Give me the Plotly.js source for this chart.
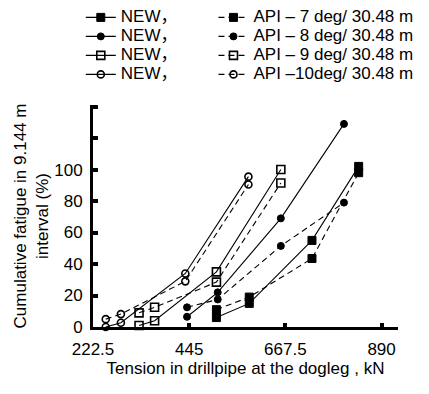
<!DOCTYPE html>
<html>
<head>
<meta charset="utf-8">
<script src="https://cdn.plot.ly/plotly-3.0.1.min.js"></script>
<style>html,body{margin:0;padding:0;background:#fff;}#chart{width:429px;height:394px;}</style>
</head>
<body>
<div id="chart"></div>
<script>
// Tension (kN) for each dogleg severity
const x7  = [508, 584, 729, 837];
const x8  = [440, 511, 657, 803];
const x9  = [329, 365, 508, 657];
const x10 = [252, 287, 436, 582];
// Cumulative fatigue (%) – NEW model
const new7  = [6, 15, 55, 102];
const new8  = [6.5, 22, 69, 129];
const new9  = [1, 4, 35, 100];
const new10 = [0, 2.7, 34, 95.5];
// Cumulative fatigue (%) – API
const api7  = [11, 19, 43.5, 98];
const api8  = [12.5, 17.5, 51.5, 79];
const api9  = [9, 12.5, 28.5, 91.5];
const api10 = [5, 8.2, 29, 90.5];

const newLabel = 'NEW，';
const apiLabels = ['API – 7 deg/ 30.48 m', 'API – 8 deg/ 30.48 m', 'API – 9 deg/ 30.48 m', 'API –10deg/ 30.48 m'];
const xTickVals = [222.5, 445, 667.5, 890];
const xTickText = ['222.5', '445', '667.5', '890'];
const yTickVals = [0, 20, 40, 60, 80, 100, 120, 140];
const yTickText = ['0', '20', '40', '60', '80', '100', '', ''];

const FONT = '"Liberation Sans", Arial, "Noto Sans CJK SC", sans-serif';
const big = s => '<span style="font-size:17px">' + s + '</span>';

const markers = [
  {symbol: 'square', size: 8, color: '#000', line: {color: '#000', width: 1}},
  {symbol: 'circle', size: 7, color: '#000', line: {color: '#000', width: 1}},
  {symbol: 'square-open', size: 8, color: '#000', line: {color: '#000', width: 1.6}},
  {symbol: 'circle-open', size: 7, color: '#000', line: {color: '#000', width: 1.6}}
];
const xs = [x7, x8, x9, x10];
const news = [new7, new8, new9, new10];
const apis = [api7, api8, api9, api10];

const traces = [];
for (let i = 0; i < 4; i++) {
  traces.push({
    x: xs[i], y: news[i], type: 'scatter', mode: 'lines+markers',
    name: big(newLabel), legend: 'legend',
    line: {color: '#000', width: 1.1, dash: 'solid'},
    marker: markers[i], cliponaxis: false
  });
}
for (let i = 0; i < 4; i++) {
  traces.push({
    x: xs[i], y: apis[i], type: 'scatter', mode: 'lines+markers',
    name: big(apiLabels[i]), legend: 'legend2',
    line: {color: '#000', width: 1.1, dash: '6px,4px'},
    marker: markers[i], cliponaxis: false
  });
}

const layout = {
  width: 429, height: 394,
  margin: {l: 93, r: 31, t: 105, b: 67, autoexpand: false},
  paper_bgcolor: '#fff', plot_bgcolor: '#fff',
  font: {family: FONT, size: 17, color: '#000'},
  showlegend: true,
  legend: {
    x: -0.04, xanchor: 'left', y: 1.46, yanchor: 'top',
    font: {family: FONT, size: 11, color: '#000'},
    bgcolor: 'rgba(0,0,0,0)', borderwidth: 0, traceorder: 'normal', tracegroupgap: 0
  },
  legend2: {
    x: 0.395, xanchor: 'left', y: 1.46, yanchor: 'top',
    font: {family: FONT, size: 11, color: '#000'},
    bgcolor: 'rgba(0,0,0,0)', borderwidth: 0, traceorder: 'normal', tracegroupgap: 0
  },
  xaxis: {
    range: [222.5, 928], tickmode: 'array', tickvals: xTickVals, ticktext: xTickText,
    ticks: 'inside', ticklen: 4, tickwidth: 4, tickcolor: '#000',
    showline: true, linecolor: '#000', linewidth: 2.5,
    showgrid: false, zeroline: false, ticklabelstandoff: 5,
    tickfont: {family: FONT, size: 17, color: '#000'},
    title: {text: 'Tension in drillpipe at the dogleg , kN', font: {family: FONT, size: 17, color: '#000'}, standoff: 4}
  },
  yaxis: {
    range: [0, 141], tickmode: 'array', tickvals: yTickVals, ticktext: yTickText,
    ticks: 'inside', ticklen: 5, tickwidth: 4, tickcolor: '#000',
    showline: true, linecolor: '#000', linewidth: 3,
    showgrid: false, zeroline: false, ticklabelstandoff: 4,
    tickfont: {family: FONT, size: 17, color: '#000'},
    title: {text: 'Cumulative fatigue in 9.144 m<br>interval (%)', font: {family: FONT, size: 17, color: '#000'}, standoff: 2}
  }
};

Plotly.newPlot('chart', traces, layout, {displayModeBar: false, staticPlot: true});
</script>
</body>
</html>
